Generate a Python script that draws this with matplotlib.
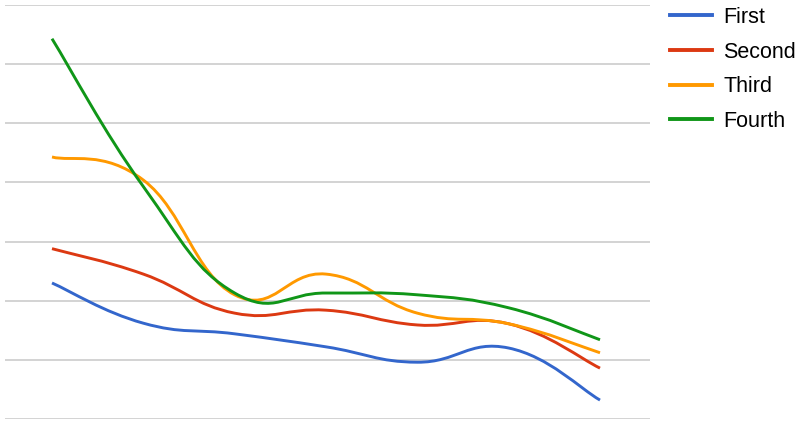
import matplotlib
matplotlib.use("Agg")
import matplotlib.pyplot as plt
import numpy as np
from matplotlib.path import Path
from matplotlib.patches import PathPatch
from matplotlib.lines import Line2D

plt.rcParams['font.family'] = ['Liberation Sans', 'DejaVu Sans']

names = ['First', 'Second', 'Third', 'Fourth']
colors = ['#3366cc', '#dc3912', '#ff9900', '#109618']
xs = [0, 1, 2, 3, 4, 5, 6]
first = [23.0, 16.2, 14.4, 12.2, 9.6, 12.0, 3.2]
second = [28.8, 24.5, 17.9, 18.4, 15.9, 16.1, 8.6]
third = [44.3, 40.4, 21.0, 24.5, 17.9, 16.1, 11.2]
fourth = [64.3, 39.3, 21.3, 21.3, 21.0, 18.8, 13.4]
series = [first, second, third, fourth]


def smooth_path(x, y, k=0.22):
    # cubic bezier through every point, control points from neighbour slopes
    x = np.asarray(x, float)
    y = np.asarray(y, float)
    n = len(x)
    verts = [(x[0], y[0])]
    codes = [Path.MOVETO]
    for i in range(n - 1):
        p0 = max(i - 1, 0)
        p3 = min(i + 2, n - 1)
        c1 = (x[i] + (x[i + 1] - x[p0]) * k, y[i] + (y[i + 1] - y[p0]) * k)
        c2 = (x[i + 1] - (x[p3] - x[i]) * k, y[i + 1] - (y[p3] - y[i]) * k)
        verts += [c1, c2, (x[i + 1], y[i + 1])]
        codes += [Path.CURVE4] * 3
    return Path(verts, codes)


fig = plt.figure(figsize=(8, 4.24), dpi=100)
ax = fig.add_axes([5 / 800, 5 / 424, 645 / 800, 414 / 424])
ax.set_xlim(-47 / 91.33, 6 + 50 / 91.33)
ax.set_ylim(0, 70)
for g in range(0, 71, 10):
    ax.axhline(g, color='#cccccc', lw=1.2, zorder=0)
for s, c in zip(series, colors):
    ax.add_patch(PathPatch(smooth_path(xs, s), fill=False, edgecolor=c,
                           lw=2.1, capstyle='butt', zorder=2))
ax.axis('off')

handles = [Line2D([], [], color=c, lw=2.8) for c in colors]
fig.legend(handles, names, loc='upper left',
           bbox_to_anchor=(670 / 800, 1 - 7 / 424), frameon=False,
           fontsize=15.5, handlelength=1.95, handletextpad=0.52,
           labelspacing=0.63, borderpad=0, borderaxespad=0)

fig.savefig('out.png', dpi=100)
